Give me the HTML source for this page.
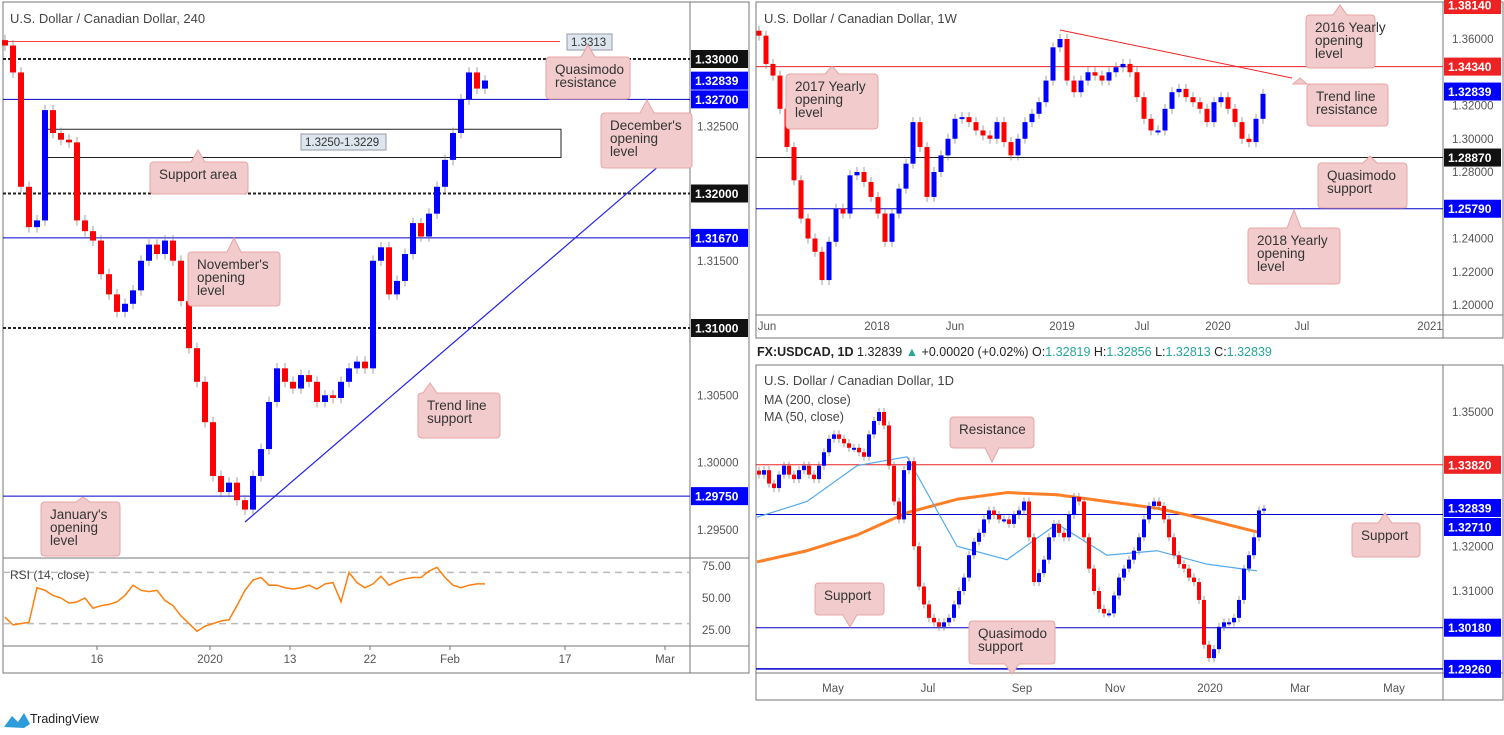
<!DOCTYPE html>
<html><head><meta charset="utf-8"><style>
body{margin:0;background:#fff;width:1504px;height:730px;overflow:hidden;font-family:"Liberation Sans",sans-serif}
svg text{font-family:"Liberation Sans",sans-serif}
</style></head><body>
<svg id="s" width="1504" height="730" viewBox="0 0 1504 730" xmlns="http://www.w3.org/2000/svg">
<rect width="1504" height="730" fill="#fff"/>
<rect x="3" y="2" width="746" height="671" fill="none" stroke="#777"/>
<line x1="690" y1="2" x2="690" y2="673" stroke="#777"/>
<line x1="3" y1="558" x2="749" y2="558" stroke="#777"/>
<line x1="3" y1="646" x2="749" y2="646" stroke="#777"/>
<rect x="756" y="2" width="747" height="336" fill="none" stroke="#777"/>
<line x1="1443" y1="2" x2="1443" y2="338" stroke="#777"/>
<line x1="756" y1="315" x2="1503" y2="315" stroke="#777"/>
<rect x="756" y="365" width="747" height="335" fill="none" stroke="#777"/>
<line x1="1443" y1="365" x2="1443" y2="700" stroke="#777"/>
<line x1="756" y1="673" x2="1503" y2="673" stroke="#777"/>
<g id="g"></g>
</svg>
<script>
// ---------- DATA ----------
const h4Closes=[1.3310,1.3290,1.3205,1.3175,1.3180,1.3262,1.3245,1.3240,1.3238,1.3180,1.3172,1.3165,1.3140,1.3125,1.3112,1.3118,1.3128,1.3150,1.3162,1.3155,1.3165,1.3150,1.3120,1.3085,1.3060,1.3030,1.2990,1.2978,1.2985,1.2972,1.2965,1.2990,1.3010,1.3045,1.3070,1.3060,1.3055,1.3065,1.3060,1.3045,1.3050,1.3048,1.3060,1.3070,1.3075,1.3070,1.3150,1.3160,1.3125,1.3135,1.3155,1.3178,1.3168,1.3185,1.3205,1.3225,1.3245,1.3270,1.3290,1.3278,1.3284];
const h4Rsi=[35,29,30,31,58,56,52,50,46,47,50,42,44,45,47,52,60,56,55,56,48,44,36,30,24,28,30,32,33,44,56,64,66,60,60,58,57,58,60,57,61,62,47,70,62,58,61,67,60,63,65,66,66,71,74,66,60,58,60,61,61];
const h4XLabels=["16","2020","13","22","Feb","17","Mar"];
const h4XLabelPos=[97,210,290,370,450,565,665];
const wkCloses=[1.362,1.345,1.338,1.318,1.295,1.275,1.252,1.24,1.232,1.215,1.238,1.258,1.255,1.278,1.28,1.274,1.265,1.255,1.238,1.255,1.27,1.285,1.31,1.295,1.265,1.28,1.29,1.30,1.312,1.313,1.31,1.305,1.302,1.30,1.31,1.298,1.29,1.30,1.31,1.315,1.322,1.335,1.355,1.36,1.335,1.328,1.335,1.34,1.338,1.335,1.34,1.343,1.345,1.34,1.325,1.312,1.305,1.305,1.318,1.328,1.33,1.325,1.322,1.318,1.31,1.322,1.325,1.318,1.31,1.30,1.298,1.312,1.327];
const wkXLabels=["Jun","2018","Jun","2019","Jul","2020","Jul","2021"];
const wkXLabelPos=[767,877,955,1062,1142,1218,1302,1430];
const wkTicks=[1.36,1.32,1.30,1.28,1.24,1.22,1.20];
const dCloses=[1.336,1.337,1.334,1.333,1.336,1.338,1.336,1.335,1.337,1.338,1.336,1.335,1.338,1.341,1.344,1.345,1.344,1.343,1.342,1.342,1.341,1.340,1.345,1.348,1.350,1.347,1.338,1.330,1.326,1.337,1.339,1.320,1.311,1.307,1.304,1.303,1.302,1.303,1.304,1.307,1.310,1.313,1.318,1.321,1.323,1.326,1.328,1.327,1.326,1.326,1.325,1.327,1.328,1.330,1.322,1.312,1.314,1.317,1.322,1.325,1.323,1.322,1.327,1.331,1.330,1.322,1.315,1.310,1.306,1.305,1.305,1.309,1.313,1.315,1.317,1.319,1.322,1.326,1.329,1.330,1.329,1.326,1.322,1.318,1.316,1.315,1.313,1.312,1.308,1.298,1.295,1.297,1.302,1.303,1.303,1.304,1.308,1.315,1.318,1.322,1.328,1.3284];
const dMa200=[1.3165,1.3190,1.3225,1.3275,1.3305,1.3320,1.3315,1.3300,1.3285,1.3260,1.3232];
const dMa50=[1.3265,1.3300,1.3380,1.3400,1.3200,1.3170,1.3250,1.3180,1.3190,1.3160,1.3145];
const dXLabels=["May","Jul","Sep","Nov","2020","Mar","May"];
const dXLabelPos=[833,928,1022,1115,1210,1300,1394];
const dTicks=[1.35,1.32,1.31];

// ---------- AXES ----------
const yH4=p=>59+(1.33-p)*13450;
const xH4=i=>5+i*8;
const yRsi=v=>598-(v-50)*1.28;
const yWk=p=>39+(1.36-p)*1662.5;
const xWk=i=>759+i*7;
const yD=p=>412+(1.35-p)*4475;
const xD=i=>759+i*5;
const xDma=i=>757+i*50;

const NS="http://www.w3.org/2000/svg";
const G=document.getElementById('g');
function mk(t,a,parent){const e=document.createElementNS(NS,t);for(const k in a)e.setAttribute(k,a[k]);(parent||G).appendChild(e);return e;}
function txt(x,y,s,a){const e=mk('text',Object.assign({x:x,y:y,'font-size':12,fill:'#333'},a||{}));e.textContent=s;return e;}

function candles(closes,xf,yf,w,wick,prefix){
  for(let i=0;i<closes.length;i++){
    const c=closes[i],o=i?closes[i-1]:c+wick;
    const up=c>=o,col=up?'#0000ff':'#ff0000';
    const hi=Math.max(o,c)+wick,lo=Math.min(o,c)-wick;
    const x=xf(i);
    const wl=mk('line',{x1:x,x2:x,y1:yf(hi),y2:yf(lo),stroke:'#777','stroke-width':0.7});
    
    
    const y1=yf(Math.max(o,c)),y2=yf(Math.min(o,c));
    const b=mk('rect',{x:x-w/2,y:y1,width:w,height:Math.max(2,y2-y1),fill:col});
    
    
  }
}
function hline(x1,x2,y,col,dash,name,sw){const l=mk('line',{x1:x1,x2:x2,y1:y,y2:y,stroke:col,'stroke-width':sw||1,'stroke-dasharray':dash||'none'});return l;}
function pbox(x,y,s,bg,name){const r=mk('rect',{x:x,y:y-9,width:57,height:18,fill:bg});txt(x+4,y+4.5,s,{fill:'#fff','font-weight':'bold','font-size':12});}
function ptick(x,y,s){txt(x,y+4,s,{fill:'#555','font-size':11.5});}
function callout(x,y,w,h,lines,px,py,name){
  const g=mk('g',{});
  
  
  const cx=px;
  let d;
  if(py<y)d=`M${x+4},${y} L${cx-7},${y} L${cx},${py} L${cx+7},${y} L${x+w-4},${y} Q${x+w},${y} ${x+w},${y+4} L${x+w},${y+h-4} Q${x+w},${y+h} ${x+w-4},${y+h} L${x+4},${y+h} Q${x},${y+h} ${x},${y+h-4} L${x},${y+4} Q${x},${y} ${x+4},${y}Z`;
  else d=`M${x+4},${y} L${x+w-4},${y} Q${x+w},${y} ${x+w},${y+4} L${x+w},${y+h-4} Q${x+w},${y+h} ${x+w-4},${y+h} L${cx+7},${y+h} L${cx},${py} L${cx-7},${y+h} L${x+4},${y+h} Q${x},${y+h} ${x},${y+h-4} L${x},${y+4} Q${x},${y} ${x+4},${y}Z`;
  mk('path',{d:d,fill:'#f2cccc',stroke:'#e8a4a4','stroke-width':1},g);
  lines.forEach((s,k)=>{const t=mk('text',{x:x+9,y:y+17+k*13,'font-size':13.5,fill:'#333'},g);t.textContent=s;});
}

// ===== LEFT H4 =====
txt(10,23,'U.S. Dollar / Canadian Dollar, 240',{'font-size':13,fill:'#444'});
hline(3,560,yH4(1.3313),'#ff4444',null,'qm-resistance-line');
hline(3,690,yH4(1.33),'#222','3,2','level-13300',2);
hline(3,690,yH4(1.32),'#222','3,2','level-13200',2);
hline(3,690,yH4(1.31),'#222','3,2','level-13100',2);
hline(3,690,yH4(1.327),'#0000cc',null,'december-open-line');
hline(3,690,yH4(1.3167),'#0000cc',null,'november-open-line');
hline(3,690,yH4(1.2975),'#0000cc',null,'january-open-line');
const sa=mk('rect',{x:45,y:yH4(1.3250)+3,width:516,height:(1.3250-1.3229)*13450,fill:'none',stroke:'#222'});

const tl=mk('line',{x1:245,y1:522,x2:660,y2:165,stroke:'#2222ee','stroke-width':1.2});

candles(h4Closes,xH4,yH4,6,0.0004,'h4');
const lb=mk('rect',{x:567,y:34,width:45,height:16,fill:'#dde6ee',stroke:'#99a'});
txt(571,46,'1.3313',{'font-size':11.5});
const lb2=mk('rect',{x:301,y:134,width:85,height:16,fill:'#dde6ee',stroke:'#99a'});
txt(305,146,'1.3250-1.3229',{'font-size':11.5});
callout(546,57,84,42,['Quasimodo','resistance'],588,45,'callout-qm-resistance');
callout(601,113,91,55,["December's",'opening','level'],647,100,'callout-december-open');
callout(150,162,98,32,['Support area'],198,150,'callout-support-area');
callout(188,252,92,54,["November's",'opening','level'],234,238,'callout-november-open');
callout(418,393,82,45,['Trend line','support'],430,383,'callout-trend-support');
callout(41,502,79,54,["January's",'opening','level'],83,497,'callout-january-open');
[[1.325,'1.32500'],[1.315,'1.31500'],[1.305,'1.30500'],[1.30,'1.30000'],[1.295,'1.29500']].forEach(a=>ptick(697,yH4(a[0]),a[1]));
pbox(691,yH4(1.33),'1.33000','#111','price-label-13300');
pbox(691,yH4(1.32839),'1.32839','#0000ff','price-label-current');
pbox(691,yH4(1.327),'1.32700','#0000ff','price-label-13270');
pbox(691,yH4(1.32),'1.32000','#111','price-label-13200');
pbox(691,yH4(1.3167),'1.31670','#0000ff','price-label-13167');
pbox(691,yH4(1.31),'1.31000','#111','price-label-13100');
pbox(691,yH4(1.2975),'1.29750','#0000ff','price-label-12975');
hline(3,690,yRsi(70),'#bbb','7,5','rsi-70-line',1.5);
hline(3,690,yRsi(30),'#bbb','7,5','rsi-30-line',1.5);
txt(10,579,'RSI (14, close)',{fill:'#444'});
let rp='';h4Rsi.forEach((v,i)=>{rp+=(i?'L':'M')+xH4(i)+','+yRsi(v);});
const rl=mk('path',{d:rp,fill:'none',stroke:'#ff7f0e','stroke-width':1.5});
[[75,'75.00'],[50,'50.00'],[25,'25.00']].forEach(a=>ptick(702,yRsi(a[0]),a[1]));
h4XLabels.forEach((s,i)=>{mk('line',{x1:h4XLabelPos[i],x2:h4XLabelPos[i],y1:646,y2:650,stroke:'#777'});txt(h4XLabelPos[i],663,s,{'text-anchor':'middle','font-size':11.5,fill:'#555'});});
const lg=mk('path',{d:'M4,727 L12,716 L18,722 L24,713 L30,724 L24,728 Z',fill:'#2d9cdb'});
txt(30,723,'TradingView',{'font-size':12.5,fill:'#222'});

// ===== RIGHT TOP WEEKLY =====
txt(764,23,'U.S. Dollar / Canadian Dollar, 1W',{'font-size':13,fill:'#444'});
hline(756,1443,yWk(1.3434),'#ee2222',null,'yearly-2016-line');
hline(756,1443,yWk(1.2887),'#222',null,'qm-support-line');
hline(756,1443,yWk(1.2579),'#0000cc',null,'yearly-2018-line');
const wt=mk('line',{x1:1060,y1:30,x2:1292,y2:78,stroke:'#ee2222','stroke-width':1});
candles(wkCloses,xWk,yWk,5,0.003,'weekly');
callout(1306,15,69,53,['2016 Yearly','opening','level'],1340,5,'callout-2016-open');
callout(786,74,92,55,['2017 Yearly','opening','level'],832,66,'callout-2017-open');
callout(1307,84,81,42,['Trend line','resistance'],1300,78,'callout-trend-resistance');
callout(1318,163,89,45,['Quasimodo','support'],1370,156,'callout-qm-support-weekly');
callout(1248,228,92,56,['2018 Yearly','opening','level'],1294,210,'callout-2018-open');
wkTicks.forEach(p=>ptick(1452,yWk(p),p.toFixed(5)));
pbox(1444,5,'1.38140','#ee2222','price-label-13814');
pbox(1444,yWk(1.3434),'1.34340','#ee2222','price-label-13434');
pbox(1444,yWk(1.32839),'1.32839','#0000ff','price-label-weekly-current');
pbox(1444,yWk(1.2887),'1.28870','#111','price-label-12887');
pbox(1444,yWk(1.2579),'1.25790','#0000ff','price-label-12579');
wkXLabels.forEach((s,i)=>{txt(wkXLabelPos[i],330,s,{'text-anchor':'middle','font-size':11.5,fill:'#555'});});

// ===== RIGHT BOTTOM DAILY =====
const hd=txt(757,356,'',{'font-size':12.5,fill:'#222'});
hd.innerHTML='<tspan font-weight="bold">FX:USDCAD, 1D</tspan> 1.32839 <tspan fill="#26a69a">▲</tspan> +0.00020 (+0.02%) O:<tspan fill="#26a69a">1.32819</tspan> H:<tspan fill="#26a69a">1.32856</tspan> L:<tspan fill="#26a69a">1.32813</tspan> C:<tspan fill="#26a69a">1.32839</tspan>';
hline(756,1443,yD(1.3382),'#ee2222',null,'daily-resistance-line');
hline(756,1443,yD(1.3271),'#0000cc',null,'daily-support-line');
hline(756,1443,yD(1.3018),'#0000cc',null,'daily-support-13018-line');
hline(756,1443,yD(1.2926),'#0000cc',null,'daily-qm-support-line',1.5);
let mp='';dMa200.forEach((v,i)=>{mp+=(i?'L':'M')+xDma(i)+','+yD(v);});
const m2=mk('path',{d:mp,fill:'none',stroke:'#ff7f27','stroke-width':3,'stroke-linejoin':'round'});
let mp5='';dMa50.forEach((v,i)=>{mp5+=(i?'L':'M')+xDma(i)+','+yD(v);});
const m5=mk('path',{d:mp5,fill:'none',stroke:'#55aaee','stroke-width':1.2});
candles(dCloses,xD,yD,4,0.0009,'daily');
txt(764,385,'U.S. Dollar / Canadian Dollar, 1D',{'font-size':13,fill:'#444'});
txt(764,404,'MA (200, close)',{'font-size':12.5,fill:'#444'});
txt(764,421,'MA (50, close)',{'font-size':12.5,fill:'#444'});
callout(950,417,84,31,['Resistance'],992,462,'callout-daily-resistance');
callout(1352,523,68,34,['Support'],1385,513,'callout-daily-support');
callout(815,583,69,32,['Support'],850,627,'callout-daily-support-left');
callout(969,621,86,43,['Quasimodo','support'],1012,674,'callout-daily-qm-support');
dTicks.forEach(p=>ptick(1452,yD(p),p.toFixed(5)));
pbox(1444,yD(1.3382),'1.33820','#ee2222','price-label-13382');
pbox(1444,508,'1.32839','#0000ff','price-label-daily-current');
pbox(1444,527,'1.32710','#0000ff','price-label-13271');
pbox(1444,yD(1.3018),'1.30180','#0000ff','price-label-13018');
pbox(1444,yD(1.2926),'1.29260','#0000ff','price-label-12926');
dXLabels.forEach((s,i)=>{txt(dXLabelPos[i],692,s,{'text-anchor':'middle','font-size':11.5,fill:'#555'});});
</script>
</body></html>
